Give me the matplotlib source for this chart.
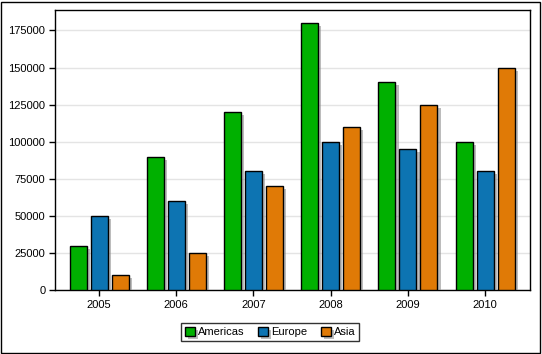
import numpy as np
import matplotlib
matplotlib.use("Agg")
import matplotlib.pyplot as plt
import matplotlib.patheffects as pe
from matplotlib.patches import Rectangle

years = ["2005", "2006", "2007", "2008", "2009", "2010"]
americas = [30000, 90000, 120000, 180000, 140000, 100000]
europe = [50000, 60000, 80000, 100000, 95000, 80000]
asia = [10000, 25000, 70000, 110000, 125000, 150000]

series = [("Americas", americas, "#00b000"),
          ("Europe", europe, "#0d74b2"),
          ("Asia", asia, "#e07a06")]

plt.rcParams["font.family"] = ["Liberation Sans", "DejaVu Sans"]
plt.rcParams["font.size"] = 8

fig = plt.figure(figsize=(5.42, 3.54), dpi=100)
ax = fig.add_axes([55/542, 64/354, 475/542, 280/354])

# outer border
fig.patches.append(Rectangle((1/542, 1/354), 539/542, 351/354, transform=fig.transFigure,
                             fill=False, edgecolor="black", linewidth=1))

x = np.arange(len(years))
w = 0.22
step = 0.272
shadow = [pe.SimplePatchShadow(offset=(2.2, -2.2), shadow_rgbFace="#909090", alpha=0.6), pe.Normal()]
handles = []
for i, (name, vals, col) in enumerate(series):
    bars = ax.bar(x + (i - 1) * step, vals, width=w, color=col, edgecolor="black",
                  linewidth=1, label=name, zorder=3)
    for b in bars:
        b.set_path_effects(shadow)
    handles.append(bars)

ax.set_xlim(-0.57, 5.58)
ax.set_ylim(0, 188800)
ax.set_xticks(x)
ax.set_xticklabels(years)
ax.set_yticks(np.arange(0, 175001, 25000))
ax.yaxis.grid(True, color="#e4e4e4", linewidth=1, zorder=0)
ax.set_axisbelow(True)
ax.tick_params(direction="out", length=4, width=1, colors="black", pad=3)
for s in ax.spines.values():
    s.set_linewidth(1)

leg = fig.legend(handles=handles, loc="center", bbox_to_anchor=(270/542, 1 - 332/354),
                 ncol=3, frameon=True, fancybox=False, edgecolor="black",
                 handlelength=0.9, handleheight=0.9, handletextpad=0.3,
                 columnspacing=1.2, borderpad=0.35, fontsize=8)
leg.get_frame().set_linewidth(1)

fig.savefig("out.png", dpi=100)
